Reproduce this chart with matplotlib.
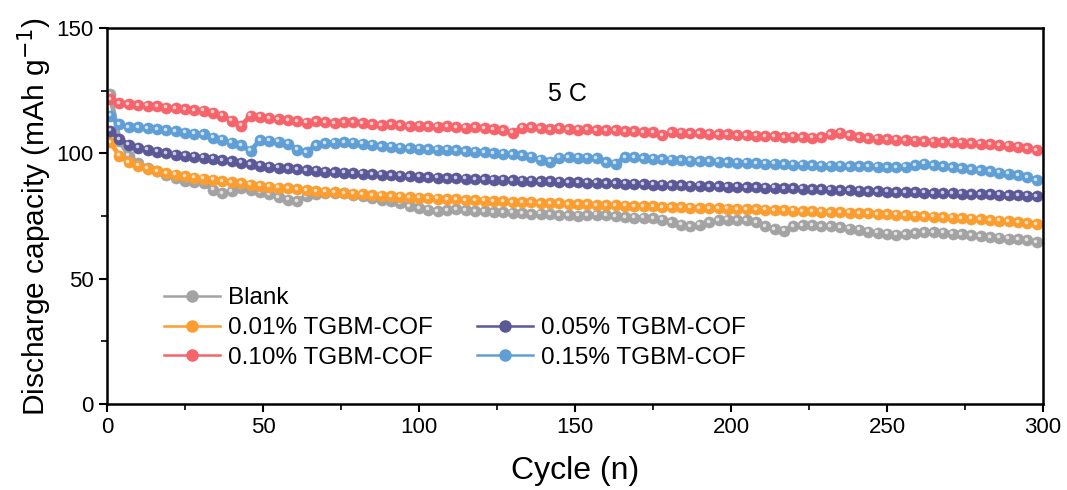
import numpy as np
import matplotlib
matplotlib.use('Agg')
import matplotlib.pyplot as plt
from matplotlib.lines import Line2D
from matplotlib import transforms

plt.rcParams['font.family'] = ['Liberation Sans', 'DejaVu Sans']

# cycle numbers (every 3rd cycle)
cycles = np.arange(1, 301, 3)

labels = ['Blank', '0.01% TGBM-COF', '0.05% TGBM-COF', '0.10% TGBM-COF', '0.15% TGBM-COF']
colors = ['#a3a3a3', '#fb9d2f', '#5b5898', '#f7636a', '#5f9fd6']

blank = [123.5, 105, 99, 96, 94.2, 92.8, 91.2, 90, 89, 88.5, 88,
         85.5, 84, 85, 86, 85.5, 84.5,
         83.8, 82.5, 81.5, 81, 83, 83.8, 84, 84.2, 84.2,
         83.5, 82.8, 82, 81.5, 81, 80, 79, 78.2,
         77.5, 77, 77.4, 77.8, 77.4, 77, 76.8, 76.5, 76.6, 76.3, 76, 75.8, 75.9, 75.6, 75.4, 75.2, 75.1,
         75.4, 75.5, 75.3, 75, 74.6, 74.3, 74.3, 74, 73.5, 72.6, 71.5, 71, 71.5, 72.5, 73.2, 73.5,
         73.4, 73.2, 72.5, 71, 69.8, 69.2, 71, 71.4, 71.3, 71, 70.8, 70.5, 70, 69.5, 68.8, 68.3, 67.9,
         67.6, 67.8, 68.2, 68.5, 68.6, 68.4, 68, 67.7, 67.4, 67, 66.6, 66.3, 66, 65.7, 65.3, 64.6]

cof_001 = [104.5, 99, 96.5, 95, 93.8, 92.8, 92, 91.4, 90.8, 90.3, 89.9,
           89.4, 88.9, 88.5, 88, 87.5, 87.1,
           86.7, 86.3, 86, 85.6, 85.3, 85, 84.7, 84.4, 84.1,
           83.9, 83.6, 83.4, 83.1, 82.9, 82.7, 82.5, 82.3,
           82.1, 81.9, 81.7, 81.6, 81.4, 81.2, 81.1, 80.9, 80.8, 80.6, 80.5, 80.4, 80.2, 80.1, 80, 79.8, 79.7,
           79.6, 79.4, 79.3, 79.2, 79.1, 79, 78.9, 78.8, 78.6, 78.5, 78.4, 78.3, 78.2, 78.1, 78, 77.9,
           77.8, 77.7, 77.6, 77.5, 77.4, 77.2, 77.1, 77, 76.8, 76.7, 76.6, 76.4, 76.3, 76.1, 76, 75.8, 75.6,
           75.5, 75.3, 75.1, 74.9, 74.7, 74.5, 74.3, 74.1, 73.9, 73.6, 73.4, 73.1, 72.8, 72.5, 72.1, 71.6]

cof_005 = [109, 105.5, 103.5, 102.3, 101.4, 100.6, 100, 99.5, 99, 98.7, 98.3,
           97.8, 97.3, 96.8, 96.2, 95.6, 95.1,
           94.7, 94.3, 94, 93.6, 93.3, 93, 92.7, 92.5, 92.3,
           92.1, 91.9, 91.6, 91.4, 91.2, 91, 90.8, 90.6,
           90.4, 90.3, 90.1, 90, 89.9, 89.7, 89.6, 89.5, 89.4, 89.2, 89.1, 89, 88.9, 88.8, 88.6, 88.5, 88.4,
           88.3, 88.2, 88.1, 88, 87.9, 87.8, 87.6, 87.5, 87.4, 87.3, 87.2, 87.1, 87, 86.9, 86.8, 86.7,
           86.6, 86.5, 86.4, 86.3, 86.2, 86.1, 86, 85.9, 85.8, 85.6, 85.5, 85.4, 85.3, 85.1, 84.9, 84.8, 84.7,
           84.6, 84.5, 84.4, 84.3, 84.2, 84.1, 84, 83.9, 83.8, 83.7, 83.6, 83.5, 83.4, 83.3, 83.1, 82.8]

cof_010 = [121.5, 120, 119.5, 119.3, 119, 118.8, 118.2, 118, 117.6, 117.3, 117,
           116.2, 115, 113, 111, 115, 114.6,
           114, 113.5, 113.2, 112.8, 112.2, 112.8, 112.5, 112, 112.4,
           112.3, 112, 111.6, 111.2, 111.5, 111.1, 110.8, 111,
           110.8, 110.6, 110.9, 110.5, 110.2, 110.5, 110.1, 109.6, 109.1, 108.2, 110.2, 110.3, 110, 109.7, 109.9, 109.5, 109.4,
           109.6, 109.3, 109.1, 109.2, 108.9, 108.7, 108.4, 108.5, 107.3, 108.3, 108.2, 107.9, 108, 107.8, 107.5, 107.6,
           107.3, 107.2, 107, 106.8, 106.9, 106.5, 106.6, 106.3, 106.2, 106.5, 107.5, 108.2, 107.3, 106.5, 106.1, 105.8, 105.6,
           105.4, 105.3, 105.1, 104.8, 104.7, 104.5, 104.4, 104.2, 104, 103.8, 103.6, 103.3, 103, 102.6, 102, 101.2]

cof_015 = [115, 111.5, 110.5, 110.3, 110, 109.6, 109.2, 108.8, 108.2, 107.8, 107.5,
           106.2, 105.4, 104.2, 103.2, 101, 105.2,
           105, 104.6, 103.8, 101.5, 100.4, 103.3, 104, 104.2, 104.4,
           104.3, 103.9, 103.5, 102.9, 102.7, 102.3, 102, 101.8,
           101.7, 101.5, 101.4, 101.2, 100.9, 100.6, 100.4, 100.1, 99.8, 99.6, 99.2, 98.6, 97.5, 96.6, 98.2, 98.5, 98.2,
           98.3, 98.1, 96.5, 95.8, 98.5, 98.4, 98.1, 97.8, 97.7, 97.5, 97.3, 97.1, 96.9, 96.8, 96.6, 96.5,
           96.3, 96.2, 96, 95.9, 95.8, 95.6, 95.5, 95.4, 95.2, 95.1, 95.1, 95, 94.9, 94.9, 94.8, 94.7, 94.5,
           94.4, 94.6, 95.2, 95.8, 95.3, 94.8, 94.4, 94, 93.6, 93.2, 92.8, 92.3, 91.8, 91.2, 90.4, 89.3]

series = [blank, cof_001, cof_005, cof_010, cof_015]

fig = plt.figure(figsize=(10.67, 4.9), dpi=100)
ax = fig.add_axes([0.1003, 0.1755, 0.8772, 0.7675])

shine = transforms.offset_copy(ax.transData, fig=fig, x=-1.0, y=1.0, units='points')
for y, c in zip(series, colors):
    ax.plot(cycles, y, '-', color=c, lw=3.5, marker='o', ms=8, mfc=c, mec=c, mew=0.4)
    ax.plot(cycles, y, 'o', color='white', ms=2.6, alpha=0.7, mew=0, transform=shine)

ax.set_xlim(0, 300)
ax.set_ylim(0, 150)
ax.set_xticks(np.arange(0, 301, 50))
ax.set_xticks(np.arange(25, 300, 50), minor=True)
ax.set_yticks(np.arange(0, 151, 50))
ax.set_yticks(np.arange(25, 150, 50), minor=True)
ax.tick_params(which='major', direction='out', length=6, width=1.5, labelsize=16)
ax.tick_params(which='minor', direction='out', length=4, width=1.2)
for s in ax.spines.values():
    s.set_linewidth(1.8)

ax.set_xlabel('Cycle (n)', fontsize=23, labelpad=13)
ax.set_ylabel('Discharge capacity (mAh g$^{-1}$)', fontsize=21.5, labelpad=2)
ax.text(147.5, 123.6, '5 C', fontsize=18, ha='center', va='center')

handles = []
for c in colors:
    handles.append(Line2D([], [], color=c, lw=1.8, marker='o', ms=8, mfc=c, mec=c))
empty = Line2D([], [], color='none')
order = [0, 1, 3]
order2 = [2, 4]
h = [handles[i] for i in order] + [empty] + [handles[i] for i in order2]
l = [labels[i] for i in order] + [''] + [labels[i] for i in order2]
ax.legend(h, l, ncol=2, frameon=False, fontsize=17.5, loc='lower left',
          bbox_to_anchor=(0.038, 0.035), handlelength=2.3, labelspacing=0.32,
          columnspacing=1.85, handletextpad=0.3)

fig.savefig('out.png', dpi=100)
